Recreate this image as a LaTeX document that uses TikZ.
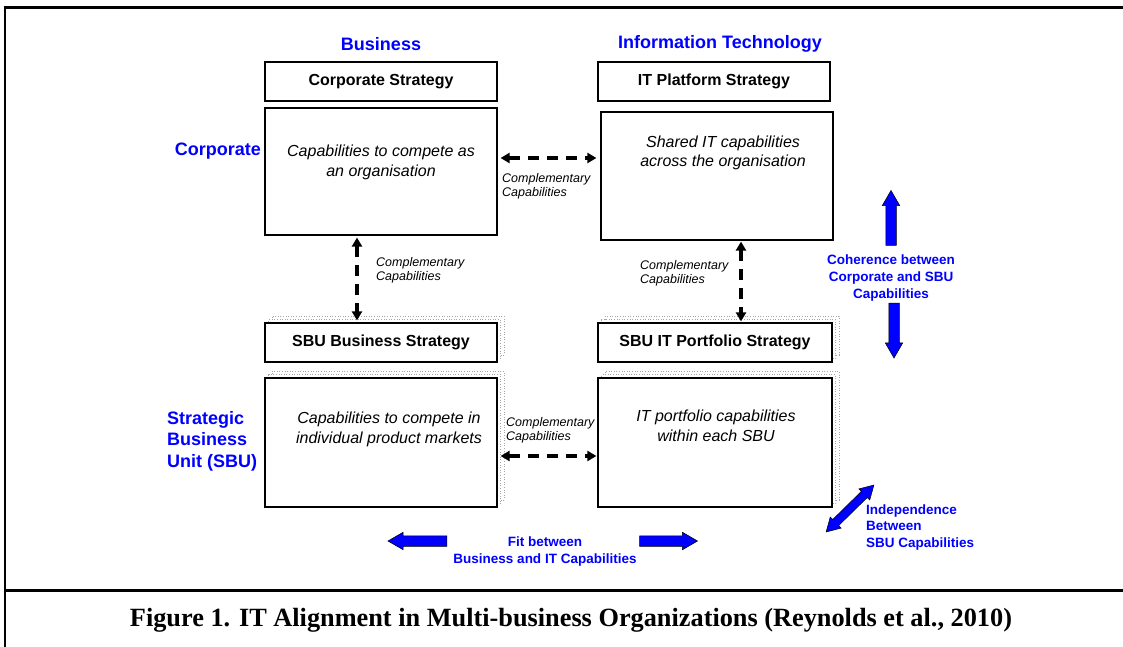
\documentclass[tikz,border=0pt]{standalone}
\usepackage{fontspec}
\setmainfont{Liberation Sans}
\newfontfamily\captionserif{Liberation Serif}
\usetikzlibrary{positioning, arrows.meta, shapes.arrows, shadows}

\begin{document}
\begin{tikzpicture}[x=1pt, y=-1pt]

    % Define styles
    \tikzset{
        stratbox/.style = {rectangle, minimum width=232pt, minimum height=39pt, text centered, draw=black, line width=1.2pt, fill=white, font=\fontsize{16}{19}\selectfont\bfseries},
        capbox/.style = {rectangle, minimum width=232pt, minimum height=128pt, draw=black, line width=1.2pt, fill=white},
        stacked/.style = {double copy shadow={shadow xshift=3.5pt, shadow yshift=3.5pt, draw=gray!70, dotted, line width=0.6pt, fill=white}},
        captext/.style = {align=center, font=\fontsize{16}{19.5}\selectfont\itshape},
        cmplabel/.style = {align=left, anchor=north west, inner sep=0pt, font=\fontsize{12.5}{14}\selectfont\itshape},
        bluehead/.style = {text=blue, font=\fontsize{18}{21.5}\selectfont\bfseries, inner sep=0pt},
        bluenote/.style = {text=blue, font=\fontsize{13.5}{16.8}\selectfont\bfseries, inner sep=0pt},
        dasharrow/.style = {line width=3.2pt, dash pattern=on 11pt off 8pt, {Triangle[length=9pt,width=10pt]}-{Triangle[length=9pt,width=10pt]}},
        blockarrow/.style = {single arrow, draw=black, line width=0.5pt, fill=blue, inner xsep=0pt, inner ysep=5pt, single arrow head extend=3.5pt, single arrow tip angle=60, single arrow head indent=0pt},
        twowayarrow/.style = {double arrow, draw=black, line width=0.5pt, fill=blue, inner xsep=0pt, inner ysep=4pt, double arrow head extend=3.5pt, double arrow tip angle=60}
    }

    \useasboundingbox (0,0) rectangle (1123,647);

    % Frame
    \draw [line width=3pt] (4,8) -- (1123,8);
    \draw [line width=1.3pt] (5,8) -- (5,647);
    \draw [line width=3pt] (4,590) -- (1123,590);

    % Nodes
    \node (business) [bluehead] at (381,44) {Business};
    \node (infotech) [bluehead] at (720,44) {Information Technology};
    \node (corporate) [bluehead, anchor=east] at (261,151) {Corporate};
    \node (sbulevel) [bluehead, anchor=west, align=left] at (167,441) {Strategic\\Business\\Unit (SBU)};

    \node (corpstrat) [stratbox] at (381,81.5) {Corporate Strategy};
    \node (corpcap) [capbox, minimum height=127pt] at (381,171.5) {};
    \node (corpcaptxt) [captext] at (381,162.5) {Capabilities to compete as\\an organisation};

    \node (itstrat) [stratbox] at (714,81.5) {IT Platform Strategy};
    \node (itcap) [capbox] at (717,176) {};
    \node (itcaptxt) [captext] at (723,153) {Shared IT capabilities\\across the organisation};

    \node (sbustrat) [stratbox, stacked] at (381,342.5) {SBU Business Strategy};
    \node (sbucap) [capbox, stacked, minimum height=129pt] at (381,442.5) {};
    \node (sbucaptxt) [captext] at (389,429.5) {Capabilities to compete in\\individual product markets};

    \node (portstrat) [stratbox, stacked, minimum width=234pt] at (715,342.5) {SBU IT Portfolio Strategy};
    \node (portcap) [capbox, stacked, minimum width=234pt, minimum height=129pt] at (715,442.5) {};
    \node (portcaptxt) [captext] at (716,426) {IT portfolio capabilities\\within each SBU};

    \node (cmptop) [cmplabel] at (502,173) {Complementary\\Capabilities};
    \node (cmpleft) [cmplabel] at (376,257) {Complementary\\Capabilities};
    \node (cmpright) [cmplabel] at (640,260) {Complementary\\Capabilities};
    \node (cmpbottom) [cmplabel] at (506,417) {Complementary\\Capabilities};

    \node (coherence) [bluenote, align=center] at (891,278) {Coherence between\\Corporate and SBU\\Capabilities};
    \node (cohup) [blockarrow, rotate=90, minimum height=55pt] at (891,222.5) {};
    \node (cohdown) [blockarrow, rotate=-90, minimum height=55pt] at (894,326) {};

    \node (independence) [bluenote, anchor=west, align=left] at (866,527.5) {Independence\\Between\\SBU Capabilities};
    \node (indarrow) [twowayarrow, rotate=44.5, minimum height=67pt] at (850,508.5) {};

    \node (fit) [bluenote, align=center] at (545,551.5) {Fit between\\Business and IT Capabilities};
    \node (fitleft) [blockarrow, rotate=180, minimum height=59pt] at (422,541) {};
    \node (fitright) [blockarrow, minimum height=58pt] at (664,541) {};

    \node (caption) [font=\captionserif\fontsize{26.3}{30}\selectfont\bfseries] at (571,620) {Figure 1. IT Alignment in Multi-business Organizations (Reynolds et al., 2010)};

    % Arrows
    \coordinate (toprow) at ([xshift=3pt, yshift=13.5pt]corpcap.east);
    \coordinate (botrow) at ([xshift=3pt, yshift=-13.5pt]sbucap.east);
    \draw [dasharrow] (toprow) -- ([xshift=-4pt]toprow -| itcap.west);
    \draw [dasharrow] (botrow) -- ([xshift=-1pt]botrow -| portcap.west);
    \draw [dasharrow] ([xshift=-24pt, yshift=-2pt]corpcap.south) -- ([xshift=-24pt, yshift=2pt]sbustrat.north);
    \draw [dasharrow] ([xshift=24pt, yshift=-1pt]itcap.south) -- ([xshift=26pt, yshift=1pt]portstrat.north);

\end{tikzpicture}
\end{document}
